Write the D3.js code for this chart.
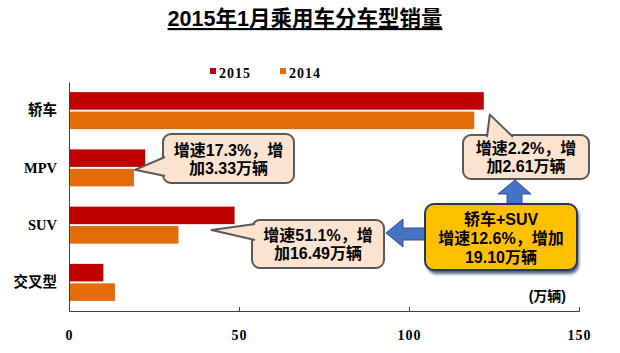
<!DOCTYPE html>
<html>
<head>
<meta charset="utf-8">
<script src="https://cdn.jsdelivr.net/npm/d3@7"></script>
<style>
  body { margin: 0; background: #fff; }
</style>
</head>
<body>
<svg id="chart" width="620" height="353"></svg>
<script>
// values, in 万辆
var categories = ["轿车", "MPV", "SUV", "交叉型"];
var years = ["2015", "2014"];
var sales2015 = [122.0, 22.4, 48.7, 10.1];
var sales2014 = [119.2, 19.1, 32.2, 13.5];
var xTicks = [0, 50, 100, 150];

// callout texts
var noteSedan = ["增速2.2%，增", "加2.61万辆"];
var noteMpv = ["增速17.3%，增", "加3.33万辆"];
var noteSuv = ["增速51.1%，增", "加16.49万辆"];
var noteSum = ["轿车+SUV", "增速12.6%，增加", "19.10万辆"];

var SANS = "'Liberation Sans', 'Noto Sans CJK SC', sans-serif";
var SERIF = "'Liberation Serif', 'Noto Sans CJK SC', serif";
var colors = {"2015": "#c00000", "2014": "#e36c09"};
var peach = "#fbe3d0";

var svg = d3.select("#chart");

// title
svg.append("text")
  .attr("x", 305).attr("y", 26)
  .attr("text-anchor", "middle")
  .style("font-family", SANS).style("font-weight", "bold")
  .style("font-size", "21.5px")
  .style("text-decoration", "underline")
  .text("2015年1月乘用车分车型销量");

// scales
var x = d3.scaleLinear().domain([0, 150]).range([69, 579]);
var y = d3.scaleBand().domain(categories).range([82, 311]);
var yInner = d3.scaleBand().domain(years)
  .range([0, y.bandwidth()])
  .paddingInner(0.1).paddingOuter(0.52);

var rows = categories.map(function(c, i) {
  return {cat: c, vals: [{year: "2015", v: sales2015[i]}, {year: "2014", v: sales2014[i]}]};
});

// bars
var groups = svg.append("g").selectAll("g")
  .data(rows).enter().append("g")
  .attr("transform", function(d) { return "translate(0," + y(d.cat) + ")"; });
groups.selectAll("rect")
  .data(function(d) { return d.vals; }).enter().append("rect")
  .attr("x", x(0))
  .attr("y", function(d) { return yInner(d.year); })
  .attr("width", function(d) { return x(d.v) - x(0); })
  .attr("height", yInner.bandwidth())
  .attr("fill", function(d) { return colors[d.year]; });

// axes
var xAxis = svg.append("g")
  .attr("transform", "translate(0," + 311 + ")")
  .call(d3.axisBottom(x).tickValues(xTicks).tickSize(-4).tickPadding(19));
xAxis.selectAll("text")
  .style("font-family", SERIF).style("font-weight", "bold")
  .style("font-size", "14px").style("letter-spacing", "1px").attr("fill", "#000");
xAxis.selectAll("path, line").attr("stroke", "#404040");

var yAxis = svg.append("g")
  .attr("transform", "translate(" + x(0) + ",0)")
  .call(d3.axisLeft(y).tickSize(0).tickPadding(12));
yAxis.selectAll("text")
  .style("font-family", SERIF).style("font-weight", "bold")
  .style("font-size", "14.5px").attr("fill", "#000");
yAxis.select(".domain").attr("stroke", "#404040");

// legend
var legend = svg.append("g").selectAll("g")
  .data(years).enter().append("g")
  .attr("transform", function(d, i) { return "translate(" + (210 + i * 70) + ",0)"; });
legend.append("rect")
  .attr("x", 0).attr("y", 68).attr("width", 6).attr("height", 6)
  .attr("fill", function(d) { return colors[d]; });
legend.append("text")
  .attr("x", 9).attr("y", 78)
  .style("font-family", SERIF).style("font-weight", "bold")
  .style("font-size", "14px").style("letter-spacing", "1px")
  .text(function(d) { return d; });

// unit
svg.append("text")
  .attr("x", 566).attr("y", 301).attr("text-anchor", "end")
  .style("font-family", SANS).style("font-weight", "bold")
  .style("font-size", "14px")
  .text("(万辆)");

// blue arrows
var arrow = svg.append("g");
function blueArrow(pts) {
  arrow.append("path")
    .attr("d", d3.line()(pts) + "Z")
    .attr("fill", "#4472c4").attr("stroke", "#2f528f").attr("stroke-width", 1);
}
// up arrow to the sedan callout
blueArrow([[515, 180], [531, 194], [522, 194], [522, 206], [507, 206], [507, 194], [498, 194]]);
// left arrow to the SUV callout
blueArrow([[386, 233], [403, 219], [403, 228], [427, 228], [427, 240], [403, 240], [403, 247]]);

// text block helper
function textLines(g, cx, cy, lines, gap) {
  var n = lines.length;
  g.selectAll(null).data(lines).enter().append("text")
    .attr("x", cx)
    .attr("y", function(d, i) { return cy + (i - (n - 1) / 2) * gap + 6; })
    .attr("text-anchor", "middle")
    .style("font-family", SANS).style("font-weight", "bold")
    .style("font-size", "16px")
    .text(function(d) { return d; });
}

// speech-bubble callout
function callout(box, tail, lines) {
  var g = svg.append("g");
  g.append("rect")
    .attr("x", box[0]).attr("y", box[1])
    .attr("width", box[2]).attr("height", box[3])
    .attr("rx", 8)
    .attr("fill", peach).attr("stroke", "#595959").attr("stroke-width", 2);
  g.append("path")
    .attr("d", d3.line()(tail))
    .attr("fill", peach).attr("stroke", "#595959").attr("stroke-width", 2)
    .attr("stroke-linejoin", "round");
  textLines(g, box[0] + box[2] / 2, box[1] + box[3] / 2, lines, 18);
}

var mpvTip = [x(sales2014[1]) + 1, y("MPV") + yInner("2014") + 1];
callout([163, 134, 131, 49], [[165, 157], mpvTip, [165, 176]], noteMpv);

var sedanTip = [x(sales2015[0]) + 6, y("轿车") + yInner("2014") + 3];
callout([463, 135, 126, 44], [[487, 137], sedanTip, [513, 137]], noteSedan);

var suvTip = [x(sales2014[2]) + 33, y("SUV") + yInner("2014") + 4];
callout([252, 220, 132, 48], [[255, 224], suvTip, [255, 240]], noteSuv);

// yellow summary box with shadow
var defs = svg.append("defs");
var f = defs.append("filter").attr("id", "shadow")
  .attr("x", "-10%").attr("y", "-10%").attr("width", "130%").attr("height", "140%");
f.append("feGaussianBlur").attr("stdDeviation", 1.5);
var sum = svg.append("g");
sum.append("rect")
  .attr("x", 427).attr("y", 207).attr("width", 152).attr("height", 67).attr("rx", 9)
  .attr("fill", "#1f2f4f").attr("opacity", 0.75).attr("filter", "url(#shadow)");
sum.append("rect")
  .attr("x", 425).attr("y", 204).attr("width", 152).attr("height", 66).attr("rx", 9)
  .attr("fill", "#ffc000").attr("stroke", "#1f3864").attr("stroke-width", 2);
textLines(sum, 501, 238, noteSum, 19);
</script>
</body>
</html>
